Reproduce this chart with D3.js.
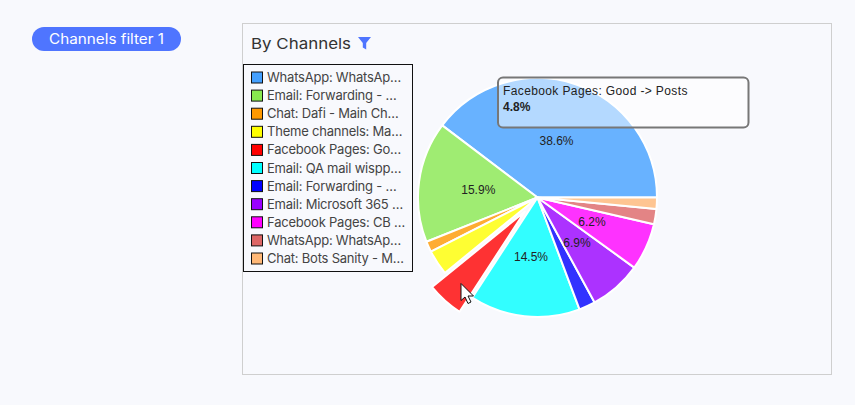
<!DOCTYPE html>
<html><head><meta charset="utf-8">
<script src="https://cdn.jsdelivr.net/npm/d3@7/dist/d3.min.js"></script>
<style>
html,body{margin:0;padding:0;background:#f8f9fd;overflow:hidden}
svg{display:block}
text{font-family:Inter,"Noto Sans",sans-serif}
</style></head><body><svg id="c" width="855" height="405"></svg>
<script>
const legendLabels=["WhatsApp: WhatsAp…","Email: Forwarding - …","Chat: Dafi - Main Ch…","Theme channels: Ma…","Facebook Pages: Go…","Email: QA mail wispp…","Email: Forwarding - …","Email: Microsoft 365 …","Facebook Pages: CB …","WhatsApp: WhatsAp…","Chat: Bots Sanity - M…"];
const shares=[38.6,15.9,1.4,3.3,4.8,14.5,2.15,6.9,6.2,2.0,1.5];
const colors=["#44a0ff","#88e84f","#ff9900","#ffff00","#ff0000","#00ffff","#0000ff","#9900ff","#ff00ff","#dd6666","#ffb877"];
const hoveredIndex=4;
const pillText="Channels filter 1", chartTitle="By Channels";
const tipName="Facebook Pages: Good -> Posts", tipValue="4.8%";

const svg=d3.select("#c");
// pill
svg.append("rect").attr("x",32).attr("y",27).attr("width",149).attr("height",24).attr("rx",12).attr("fill","#4f75ff");
svg.append("text").attr("x",106.5).attr("y",44).attr("text-anchor","middle").attr("fill","#fff").attr("font-size",14).attr("textLength",115).attr("lengthAdjust","spacingAndGlyphs").text(pillText);
// card
svg.append("rect").attr("x",242.5).attr("y",23.5).attr("width",589).attr("height",351).attr("fill","none").attr("stroke","#cfcfcf");
svg.append("text").attr("x",251).attr("y",49).attr("fill","#333").attr("font-size",15).attr("textLength",100).attr("lengthAdjust","spacingAndGlyphs").text(chartTitle);
svg.append("path").attr("d","M358 37H371L366.2 43V49.5L362.8 47.5V43Z").attr("fill","#4f75ff");

// pie
const cx=537.5,cy=197.5,R=119.5,explode=19;
const pie=d3.pie().sort(null).startAngle(Math.PI/2).endAngle(-1.5*Math.PI);
const arcs=pie(shares);
const arc=d3.arc().innerRadius(0).outerRadius(R);
const g=svg.append("g").attr("transform",`translate(${cx},${cy})`);
g.selectAll("path").data(arcs).join("path")
 .attr("d",arc)
 .attr("fill",(d,i)=>colors[i]).attr("fill-opacity",0.8)
 .attr("stroke","#fff").attr("stroke-width",2).attr("stroke-linejoin","round")
 .attr("transform",(d,i)=>{
   if(i!==hoveredIndex) return null;
   const [x,y]=arc.centroid(d),l=Math.hypot(x,y);
   return `translate(${x/l*explode},${y/l*explode})`;
 });
const labelled=arcs.filter(d=>d.data>=5);
g.selectAll("text").data(labelled).join("text")
 .attr("transform",d=>{const [x,y]=arc.centroid(d);return `translate(${x},${y})`})
 .attr("text-anchor","middle").attr("dy","0.35em")
 .style("font-family","'Liberation Sans',Arial,sans-serif").attr("font-size",12).attr("fill","#222")
 .text(d=>d.data.toFixed(1)+"%");

// legend
svg.append("rect").attr("x",243.5).attr("y",64.5).attr("width",169).attr("height",207).attr("fill","#f8f9fd").attr("stroke","#111");
const ly=d3.scalePoint().domain(d3.range(legendLabels.length)).range([77.5,258.5]);
const leg=svg.append("g").selectAll("g").data(legendLabels).join("g").attr("transform",(d,i)=>`translate(0,${ly(i)})`);
leg.append("rect").attr("x",251.5).attr("y",-5.5).attr("width",11).attr("height",11).attr("fill",(d,i)=>colors[i]).attr("stroke","#111");
leg.append("text").attr("x",267).attr("y",4.5).attr("font-size",13).attr("letter-spacing",-0.22).attr("fill","#444").text(d=>d);

// tooltip
svg.append("rect").attr("x",498).attr("y",77.5).attr("width",250.5).attr("height",50).attr("rx",5)
 .attr("fill","#fff").attr("fill-opacity",0.5).attr("stroke","#777").attr("stroke-width",2);
svg.append("text").attr("x",503).attr("y",94.5).attr("font-size",12).attr("fill","#222").style("font-family","'Liberation Sans',Arial,sans-serif").attr("letter-spacing",0.38).text(tipName);
svg.append("text").attr("x",503).attr("y",111).attr("font-size",12).attr("font-weight","bold").attr("fill","#222").style("font-family","'Liberation Sans',Arial,sans-serif").text(tipValue);

// pointer
svg.append("path").attr("transform","translate(461,283.5)")
 .attr("d","M0 0V17L4 13.5L7 20L10 18.5L7 12.5H12.5Z").attr("fill","#fff").attr("stroke","#111").attr("stroke-width",1);
</script></body></html>
